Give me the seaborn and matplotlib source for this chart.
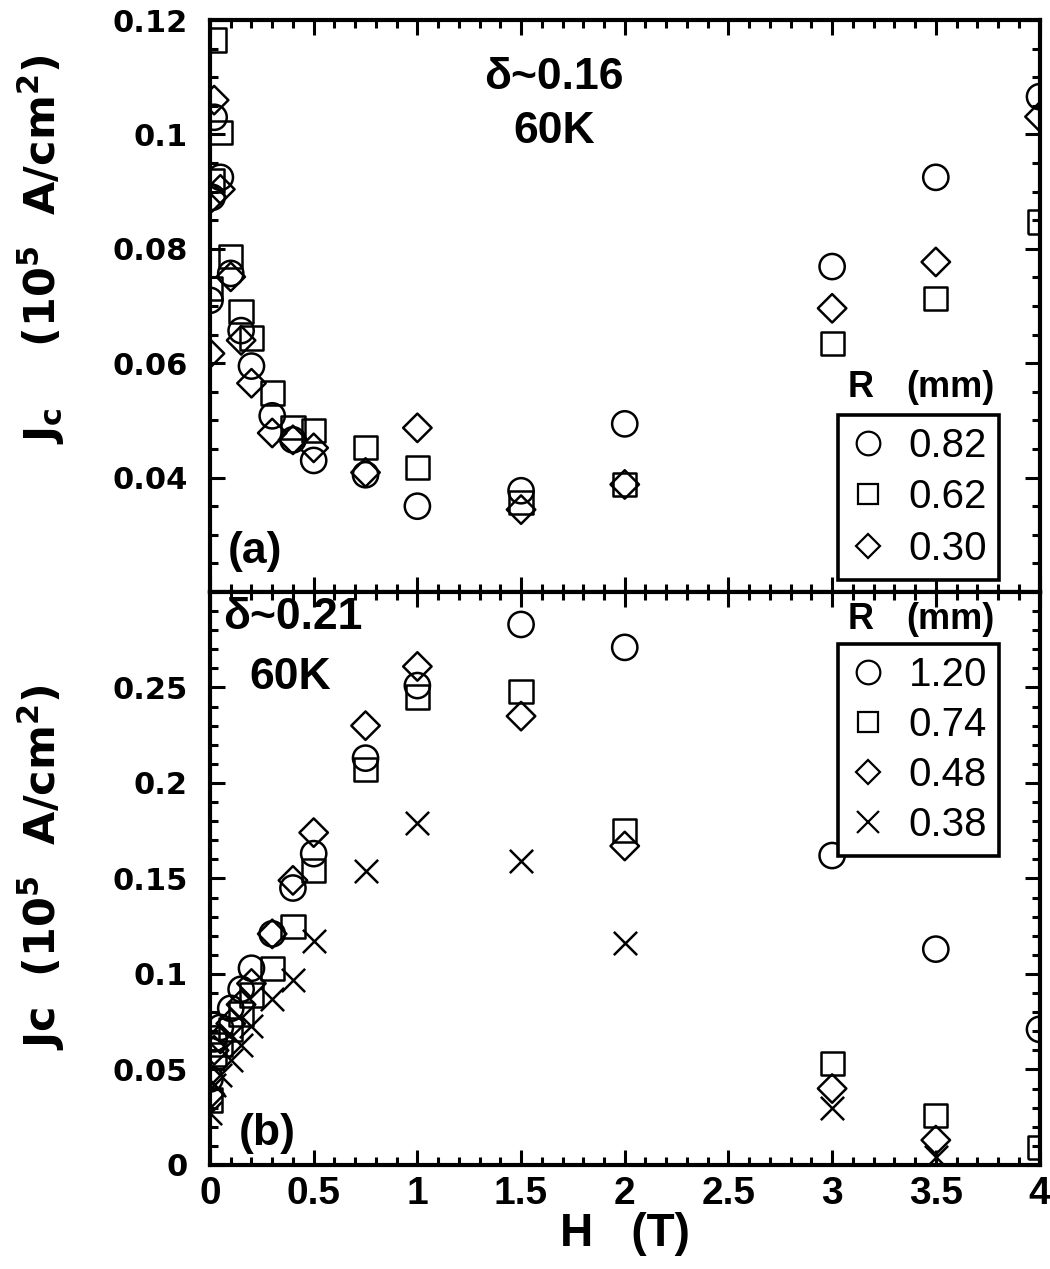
import numpy as np
import matplotlib
matplotlib.use("Agg")
import matplotlib.pyplot as plt
import seaborn as sns
from matplotlib.lines import Line2D
from matplotlib.ticker import MultipleLocator, FuncFormatter

# panel (a): delta ~ 0.16, 60 K
a_circ_h = [0, 0.01, 0.02, 0.05, 0.1, 0.15, 0.2, 0.3, 0.4, 0.5, 0.75, 1, 1.5, 2, 3, 3.5, 4]
a_circ_jc = [0.071, 0.089, 0.103, 0.0925, 0.0757, 0.0657, 0.0595, 0.0508, 0.0466, 0.043,
             0.0405, 0.035, 0.0377, 0.0494, 0.0769, 0.0925, 0.1066]
a_sq_h = [0, 0.01, 0.02, 0.05, 0.1, 0.15, 0.2, 0.3, 0.4, 0.5, 0.75, 1, 1.5, 2, 3, 3.5, 4]
a_sq_jc = [0.073, 0.092, 0.1165, 0.1003, 0.0786, 0.069, 0.0644, 0.0548, 0.0487, 0.0483,
           0.0452, 0.0417, 0.0356, 0.0388, 0.0635, 0.0713, 0.0847]
a_dia_h = [0, 0.01, 0.02, 0.05, 0.1, 0.15, 0.2, 0.3, 0.4, 0.5, 0.75, 1, 1.5, 2, 3, 3.5, 4]
a_dia_jc = [0.0617, 0.089, 0.106, 0.0904, 0.0751, 0.064, 0.0565, 0.0478, 0.0466, 0.0452,
            0.0409, 0.0487, 0.0344, 0.0388, 0.0696, 0.0777, 0.1031]
a_labels = ["0.82", "0.62", "0.30"]

# panel (b): delta ~ 0.21, 60 K
b_h = [0, 0.02, 0.05, 0.1, 0.15, 0.2, 0.3, 0.4, 0.5, 0.75, 1, 1.5, 2, 3, 3.5, 4]
b_circ_jc = [0.045, 0.066, 0.072, 0.082, 0.092, 0.103, 0.121, 0.145, 0.163, 0.213,
             0.251, 0.283, 0.271, 0.162, 0.113, 0.071]
b_sq_jc = [0.034, 0.058, 0.063, 0.071, 0.079, 0.089, 0.103, 0.125, 0.154, 0.207,
           0.245, 0.248, 0.175, 0.053, 0.026, 0.009]
b_dia_jc = [0.037, 0.060, 0.066, 0.074, 0.084, 0.095, 0.121, 0.149, 0.174, 0.230,
            0.261, 0.235, 0.167, 0.040, 0.013, np.nan]
b_x_jc = [0.027, 0.042, 0.047, 0.055, 0.063, 0.073, 0.087, 0.097, 0.117, 0.154,
          0.179, 0.159, 0.116, 0.030, 0.004, np.nan]
b_labels = ["1.20", "0.74", "0.48", "0.38"]

sns.set_style("ticks")
plt.rcParams["font.family"] = ["Liberation Sans", "DejaVu Sans"]
plt.rcParams["mathtext.default"] = "regular"
for key in ("text.color", "axes.labelcolor", "xtick.color", "ytick.color", "axes.edgecolor"):
    plt.rcParams[key] = "black"
NARROW = ["Liberation Sans Narrow", "Liberation Sans", "DejaVu Sans"]
WIDE = ["DejaVu Sans"]

fig = plt.figure(figsize=(10.5, 12.69), dpi=100)
ax_a = fig.add_axes([0.2, 0.5335, 0.79, 0.4507])
ax_b = fig.add_axes([0.2, 0.0820, 0.79, 0.4515])

MS = dict(circ=330, sq=280, dia=210, x=280)


def open_pts(ax, x, y, marker, s):
    if marker == "x":
        sns.scatterplot(x=x, y=y, marker="x", s=s, color="black", linewidth=1.8, ax=ax)
    else:
        sns.scatterplot(x=x, y=y, marker=marker, s=s, facecolor="none",
                        edgecolor="black", linewidth=1.8, ax=ax)


open_pts(ax_a, a_circ_h, a_circ_jc, "o", MS["circ"])
open_pts(ax_a, a_sq_h, a_sq_jc, "s", MS["sq"])
open_pts(ax_a, a_dia_h, a_dia_jc, "D", MS["dia"])

open_pts(ax_b, b_h, b_circ_jc, "o", MS["circ"])
open_pts(ax_b, b_h, b_sq_jc, "s", MS["sq"])
open_pts(ax_b, b_h, b_dia_jc, "D", MS["dia"])
open_pts(ax_b, b_h, b_x_jc, "x", MS["x"])

fmt = FuncFormatter(lambda v, p: "%g" % v)
for ax in (ax_a, ax_b):
    ax.set_xlim(0, 4)
    ax.xaxis.set_major_locator(MultipleLocator(0.5))
    ax.xaxis.set_minor_locator(MultipleLocator(0.1))
    ax.tick_params(which="both", direction="in", top=True, right=True, width=2.2,
                   color="black", labelcolor="black")
    ax.tick_params(which="major", length=11)
    ax.tick_params(which="minor", length=6)
    ax.tick_params(axis="y", labelsize=22, pad=16)
    for sp in ax.spines.values():
        sp.set_linewidth(3)
        sp.set_color("black")
    ax.set_xlabel("")
    ax.set_ylabel("")

ax_a.set_ylim(0.02, 0.12)
ax_a.set_yticks([0.04, 0.06, 0.08, 0.1, 0.12])
ax_a.yaxis.set_minor_locator(MultipleLocator(0.005))
ax_a.yaxis.set_major_formatter(fmt)
ax_a.tick_params(axis="x", labelbottom=False)

ax_b.set_ylim(0, 0.3)
ax_b.set_yticks([0, 0.05, 0.1, 0.15, 0.2, 0.25])
ax_b.yaxis.set_minor_locator(MultipleLocator(0.01))
ax_b.yaxis.set_major_formatter(fmt)
ax_b.xaxis.set_major_formatter(fmt)
ax_b.tick_params(axis="x", labelsize=28, pad=8)

for ax in (ax_a, ax_b):
    for lab in ax.get_yticklabels():
        lab.set_fontweight("bold")
        lab.set_family(WIDE)
    for lab in ax.get_xticklabels():
        lab.set_fontweight("bold")
        lab.set_family(NARROW)

ax_b.set_xlabel("H   (T)", fontsize=33, fontweight="bold", family=NARROW, labelpad=0)
ax_a.set_ylabel("J$_c$    (10$^5$  A/cm$^2$)", fontsize=31, fontweight="bold", family=WIDE)
ax_b.set_ylabel("Jc  (10$^5$  A/cm$^2$)", fontsize=31, fontweight="bold", family=WIDE)
ax_a.yaxis.set_label_coords(-0.172, 0.6)
ax_b.yaxis.set_label_coords(-0.172, 0.52)

txt = dict(fontsize=32, fontweight="bold", color="black")
ax_a.text(0.415, 0.9, "δ~0.16", ha="center", va="center", transform=ax_a.transAxes, **txt)
ax_a.text(0.415, 0.805, "60K", ha="center", va="center", transform=ax_a.transAxes, **txt)
ax_a.text(0.022, 0.07, "(a)", ha="left", va="center", transform=ax_a.transAxes, **txt)
ax_b.text(0.016, 0.955, "δ~0.21", ha="left", va="center", transform=ax_b.transAxes, **txt)
ax_b.text(0.048, 0.85, "60K", ha="left", va="center", transform=ax_b.transAxes, **txt)
ax_b.text(0.035, 0.055, "(b)", ha="left", va="center", transform=ax_b.transAxes, **txt)


def legend_box(ax, markers, labels, anchor, head_y, spacing):
    handles = [Line2D([], [], linestyle="none", marker=m, markersize=sz,
                      markerfacecolor="none" if m != "x" else "black",
                      markeredgecolor="black", markeredgewidth=1.6)
               for m, sz in markers]
    leg = ax.legend(handles, labels, loc="upper left", bbox_to_anchor=anchor,
                    fontsize=29, frameon=True, fancybox=False, handlelength=0.9,
                    handletextpad=0.55, labelspacing=spacing, borderpad=0.3,
                    borderaxespad=0, labelcolor="black")
    fr = leg.get_frame()
    fr.set_edgecolor("black")
    fr.set_linewidth(2.6)
    fr.set_alpha(1)
    ax.text(anchor[0] + 0.012, head_y, "R", fontsize=26, fontweight="bold", color="black",
            ha="left", va="center", transform=ax.transAxes)
    ax.text(anchor[0] + 0.082, head_y, "(mm)", fontsize=26, fontweight="bold", color="black",
            ha="left", va="center", transform=ax.transAxes)


legend_box(ax_a, [("o", 17), ("s", 15), ("D", 12)], a_labels, (0.757, 0.31), 0.357, 0.34)
legend_box(ax_b, [("o", 17), ("s", 15), ("D", 12), ("x", 16)], b_labels, (0.757, 0.91), 0.952, 0.3)

fig.savefig("out.png", dpi=100)
